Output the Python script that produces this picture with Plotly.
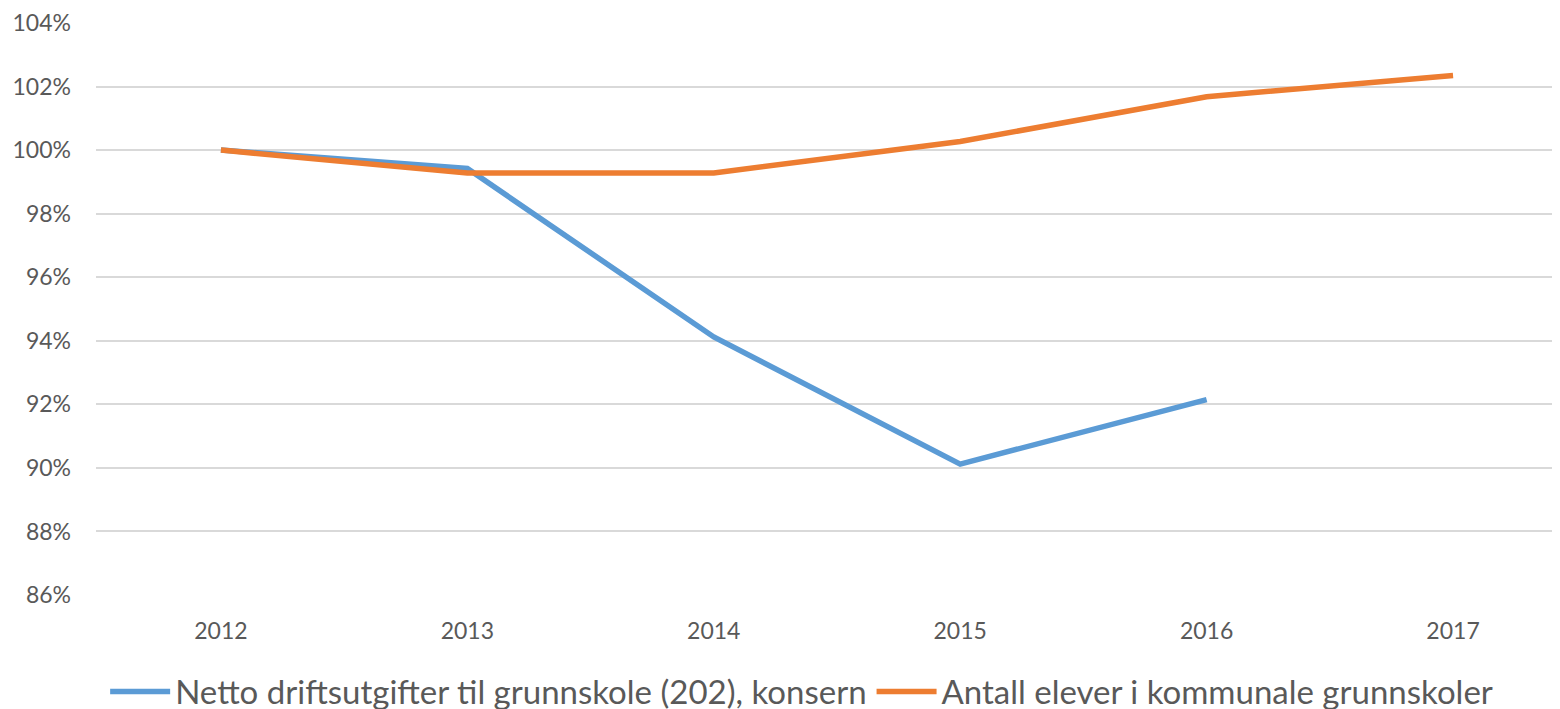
import plotly.graph_objects as go

years = [2012, 2013, 2014, 2015, 2016, 2017]
netto = [100.0, 99.42, 94.12, 90.12, 92.15, None]
elever = [100.0, 99.28, 99.28, 100.27, 101.68, 102.35]
series_names = ["Netto driftsutgifter til grunnskole (202), konsern",
                "Antall elever i kommunale grunnskoler"]
y_ticks = [86, 88, 90, 92, 94, 96, 98, 100, 102, 104]
y_labels = [f"{v}%" for v in y_ticks]

fig = go.Figure()
fig.add_trace(go.Scatter(x=years, y=netto, mode="lines", name=series_names[0],
                         line=dict(color="#5B9BD5", width=5.5), connectgaps=False))
fig.add_trace(go.Scatter(x=years, y=elever, mode="lines", name=series_names[1],
                         line=dict(color="#ED7D31", width=5.5)))

fig.update_layout(
    width=1560, height=709,
    margin=dict(l=88, r=8, t=15, b=122, autoexpand=False),
    plot_bgcolor="white", paper_bgcolor="white",
    font=dict(family="Lato, Liberation Sans, sans-serif", color="#595959"),
    showlegend=True,
    legend=dict(orientation="h", x=0.482, xanchor="center",
                yref="container", y=0.036, yanchor="middle",
                font=dict(size=33, color="#595959"), itemwidth=60,
                tracegroupgap=0),
    xaxis=dict(range=[2011.493, 2017.434], tickvals=years, ticktext=[str(y) for y in years],
               showgrid=False, zeroline=False, showline=False, ticks="", automargin=False,
               tickfont=dict(size=23, color="#595959"), ticklabelstandoff=20),
    yaxis=dict(range=[86, 104], tickvals=y_ticks, ticktext=y_labels,
               showgrid=True, gridcolor="#D9D9D9", gridwidth=2, zeroline=False,
               showline=False, ticks="", automargin=False,
               tickfont=dict(size=23, color="#595959"), ticklabelstandoff=24),
)

fig.write_html("out.html")
